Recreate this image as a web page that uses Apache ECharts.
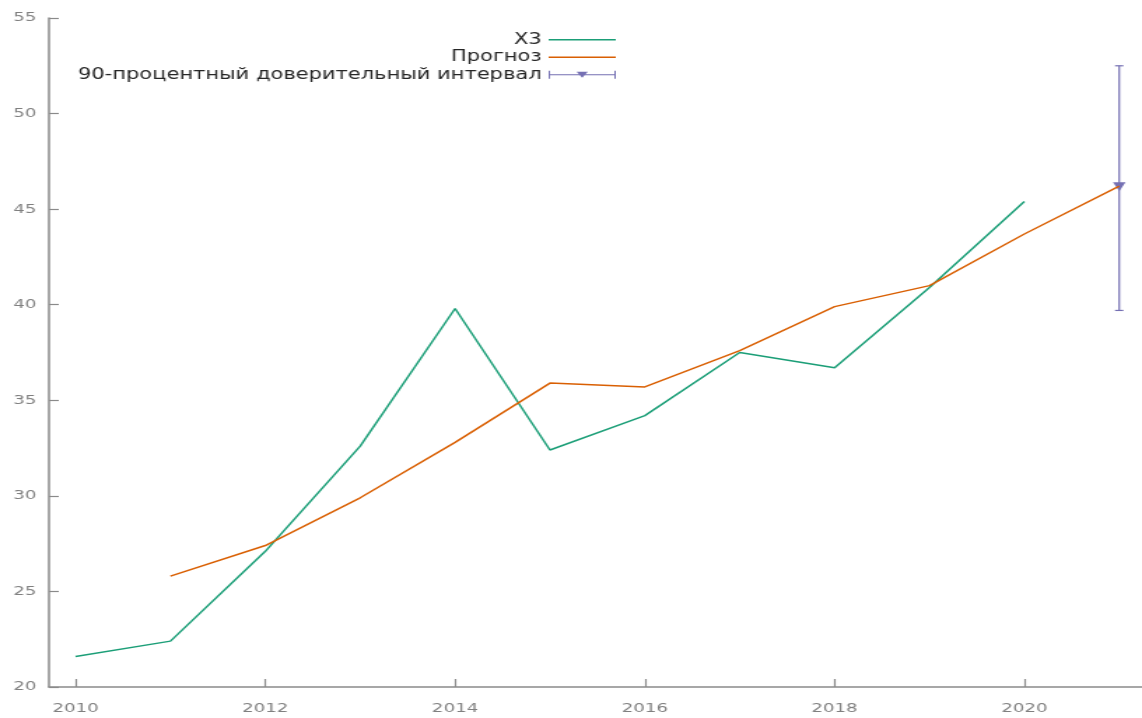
<!DOCTYPE html>
<html>
<head>
<meta charset="utf-8">
<script src="https://cdn.jsdelivr.net/npm/echarts@6/dist/echarts.min.js"></script>
<style>
  html, body { margin: 0; padding: 0; background: #fff; overflow: hidden; }
  #chart { width: 816px; height: 718px; transform-origin: 0 0; transform: scaleX(1.3995); }
</style>
</head>
<body>
<div id="chart"></div>
<script>
// ---- data ----
const years = [2010, 2011, 2012, 2013, 2014, 2015, 2016, 2017, 2018, 2019, 2020];
const x3Values = [21.6, 22.4, 27.1, 32.6, 39.8, 32.4, 34.2, 37.5, 36.7, 40.9, 45.4];
const forecastYears = [2011, 2012, 2013, 2014, 2015, 2016, 2017, 2018, 2019, 2020, 2021];
const forecastValues = [25.8, 27.4, 29.9, 32.8, 35.9, 35.7, 37.6, 39.9, 41.0, 43.7, 46.2];
const intervalYear = [2021];
const intervalMid = [46.2];
const intervalLow = [39.7];
const intervalHigh = [52.5];
const xTickLabels = [2010, 2012, 2014, 2016, 2018, 2020];
const seriesNames = ['X3', 'Прогноз', '90-процентный доверительный интервал'];

const colors = ['#1b9e77', '#d95f02', '#7570b3'];
const font = 'DejaVu Sans, Verdana, sans-serif';

const chart = echarts.init(document.getElementById('chart'), null, { renderer: 'canvas' });

// legend icons (48 x 8 boxes); tiny corner specks fix the bounding box
const lineIcon = 'path://M0 0H0.01V0.01H0Z M0 3.3H48V4.7H0Z M47.99 7.99H48V8H47.99Z';
const errIcon = 'path://M0 0H1V3.4H47V0H48V8H47V4.6H1V8H0Z M20 1H28L24 7Z';

chart.setOption({
  animation: false,
  color: colors,
  grid: { left: 35, right: 0, top: 18, bottom: 31, containLabel: false },
  legend: {
    orient: 'vertical',
    align: 'right',
    right: 371,
    top: 26,
    itemWidth: 48,
    itemHeight: 8,
    itemGap: 0,
    textStyle: { fontFamily: font, fontSize: 15, color: '#262626', lineHeight: 17.5 },
    data: [
      { name: seriesNames[0], icon: lineIcon },
      { name: seriesNames[1], icon: lineIcon },
      { name: seriesNames[2], icon: errIcon }
    ]
  },
  xAxis: {
    type: 'value',
    min: 2009.72,
    max: 2021.24,
    splitLine: { show: false },
    axisLine: { lineStyle: { color: '#8a8a8a', width: 1.5 } },
    axisTick: { inside: true, length: 8, customValues: xTickLabels, lineStyle: { color: '#8a8a8a', width: 1.2 } },
    axisLabel: { customValues: xTickLabels, margin: 15, fontFamily: font, fontSize: 13, color: '#808080', formatter: v => String(v) }
  },
  yAxis: {
    type: 'value',
    min: 20,
    max: 55,
    interval: 5,
    splitLine: { show: false },
    axisLine: { show: true, lineStyle: { color: '#8a8a8a', width: 1.5 } },
    axisTick: { show: true, inside: true, length: 7, lineStyle: { color: '#8a8a8a', width: 1.2 } },
    axisLabel: { margin: 9, fontFamily: font, fontSize: 13, color: '#808080' }
  },
  series: [
    {
      name: seriesNames[0],
      type: 'line',
      symbol: 'none',
      lineStyle: { width: 1.5, color: colors[0] },
      itemStyle: { color: colors[0] },
      data: years.map((y, i) => [y, x3Values[i]])
    },
    {
      name: seriesNames[1],
      type: 'line',
      symbol: 'none',
      lineStyle: { width: 1.5, color: colors[1] },
      itemStyle: { color: colors[1] },
      data: forecastYears.map((y, i) => [y, forecastValues[i]])
    },
    {
      name: seriesNames[2],
      type: 'custom',
      itemStyle: { color: colors[2] },
      encode: { x: 0, y: [1, 2, 3] },
      data: intervalYear.map((y, i) => [y, intervalMid[i], intervalLow[i], intervalHigh[i]]),
      renderItem: function (params, api) {
        const x = api.value(0);
        const mid = api.coord([x, api.value(1)]);
        const lo = api.coord([x, api.value(2)]);
        const hi = api.coord([x, api.value(3)]);
        const cap = 3;
        const stroke = { stroke: colors[2], lineWidth: 1.2 };
        return {
          type: 'group',
          children: [
            { type: 'line', shape: { x1: lo[0], y1: lo[1], x2: hi[0], y2: hi[1] }, style: stroke },
            { type: 'line', shape: { x1: lo[0] - cap, y1: lo[1], x2: lo[0] + cap, y2: lo[1] }, style: stroke },
            { type: 'line', shape: { x1: hi[0] - cap, y1: hi[1], x2: hi[0] + cap, y2: hi[1] }, style: stroke },
            { type: 'polygon', shape: { points: [[mid[0] - 4.5, mid[1] - 4], [mid[0] + 4.5, mid[1] - 4], [mid[0], mid[1] + 5]] }, style: { fill: colors[2] } }
          ]
        };
      }
    }
  ]
});
</script>
</body>
</html>
